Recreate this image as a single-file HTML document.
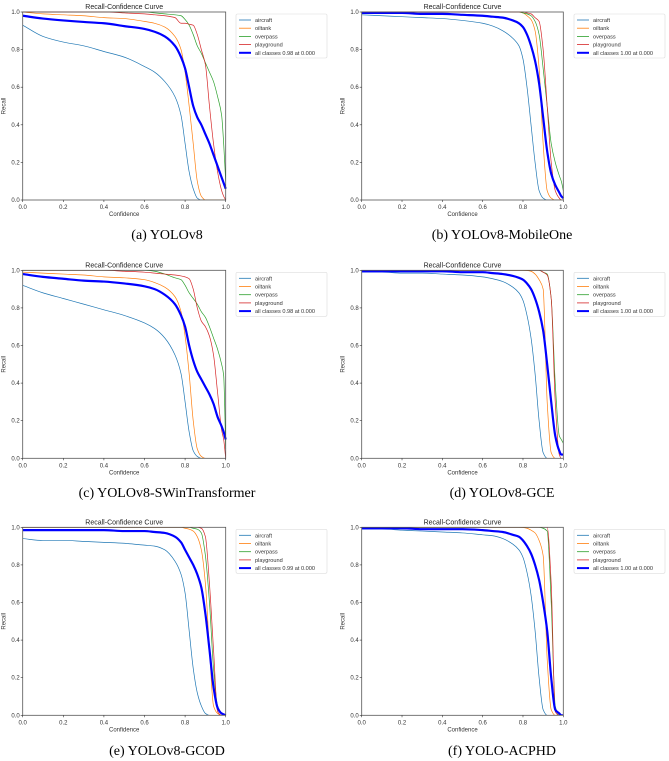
<!DOCTYPE html>
<html><head><meta charset="utf-8">
<style>
html,body{margin:0;padding:0;background:#fff;}
svg{display:block;}
text{font-family:"Liberation Sans",sans-serif;}
.cap{font-family:"Liberation Serif",serif;font-size:14px;fill:#000;}
</style></head>
<body>
<svg id="fig" width="669" height="761" viewBox="0 0 669 761" xmlns="http://www.w3.org/2000/svg"></svg>
<script>
const confidence=[0,0.1,0.2,0.3,0.4,0.5,0.6,0.65,0.7,0.75,0.78,0.8,0.82,0.84,0.86,0.88,0.9,0.92,0.94,0.96,0.98,0.99,1.0];
const tickLabels=["0.0","0.2","0.4","0.6","0.8","1.0"];
const tickValues=[0,0.2,0.4,0.6,0.8,1.0];
const seriesNames=["aircraft","oiltank","overpass","playground"];
const captions=["(a) YOLOv8","(b) YOLOv8-MobileOne","(c) YOLOv8-SWinTransformer","(d) YOLOv8-GCE","(e) YOLOv8-GCOD","(f) YOLO-ACPHD"];
const allLabels=["all classes 0.98 at 0.000","all classes 1.00 at 0.000","all classes 0.98 at 0.000","all classes 1.00 at 0.000","all classes 0.99 at 0.000","all classes 1.00 at 0.000"];

const aAircraft=[0.93,0.87,0.84,0.82,0.79,0.76,0.71,0.68,0.63,0.55,0.45,0.30,0.15,0.06,0.01,0,0,0,0,0,0,0,0];
const aOiltank=[1.0,0.99,0.985,0.98,0.97,0.965,0.95,0.94,0.92,0.87,0.80,0.68,0.50,0.30,0.10,0.02,0,0,0,0,0,0,0];
const aOverpass=[1,1,1,1,1,1,1,0.995,0.99,0.985,0.98,0.96,0.93,0.88,0.82,0.78,0.73,0.68,0.63,0.55,0.45,0.30,0.10];
const aPlayground=[1,1,1,1,1,0.995,0.99,0.985,0.98,0.97,0.94,0.94,0.935,0.93,0.88,0.80,0.72,0.50,0.30,0.15,0.05,0.02,0];
const aAll=[0.98,0.965,0.955,0.947,0.94,0.925,0.91,0.895,0.87,0.82,0.76,0.70,0.60,0.50,0.44,0.40,0.35,0.30,0.24,0.18,0.12,0.09,0.06];

const bAircraft=[0.985,0.98,0.975,0.97,0.965,0.955,0.94,0.925,0.90,0.86,0.82,0.75,0.60,0.40,0.20,0.05,0.01,0,0,0,0,0,0];
const bOiltank=[1,1,1,1,1,1,1,1,1,1,0.999,0.995,0.98,0.96,0.90,0.70,0.30,0.05,0.01,0,0,0,0];
const bOverpass=[1,1,1,1,1,1,1,1,1,1,1,0.995,0.99,0.98,0.95,0.88,0.70,0.50,0.30,0.20,0.13,0.10,0.05];
const bPlayground=[1,1,1,1,1,1,1,1,1,1,1,1,0.995,0.99,0.97,0.95,0.80,0.50,0.20,0.05,0.01,0,0];
const bAll=[0.995,0.995,0.995,0.99,0.99,0.985,0.98,0.975,0.97,0.955,0.94,0.92,0.88,0.82,0.74,0.62,0.44,0.26,0.14,0.08,0.04,0.02,0.01];

const cAircraft=[0.92,0.88,0.85,0.82,0.79,0.76,0.72,0.69,0.64,0.55,0.45,0.30,0.14,0.04,0.01,0,0,0,0,0,0,0,0];
const cOiltank=[0.99,0.985,0.98,0.975,0.965,0.96,0.95,0.935,0.91,0.86,0.78,0.65,0.45,0.20,0.05,0.01,0,0,0,0,0,0,0];
const cOverpass=[1,1,1,1,1,1,1,0.995,0.98,0.96,0.95,0.92,0.88,0.85,0.82,0.78,0.75,0.70,0.64,0.58,0.50,0.44,0.05];
const cPlayground=[1,1,1,1,1,0.995,0.99,0.985,0.98,0.975,0.97,0.965,0.955,0.90,0.80,0.73,0.70,0.65,0.55,0.35,0.15,0.10,0.0];
const cAll=[0.98,0.965,0.955,0.945,0.94,0.93,0.915,0.90,0.87,0.82,0.76,0.70,0.60,0.52,0.46,0.42,0.38,0.34,0.29,0.22,0.17,0.14,0.10];

const dAircraft=[0.99,0.99,0.985,0.985,0.98,0.975,0.965,0.955,0.94,0.91,0.88,0.84,0.76,0.64,0.45,0.20,0.03,0,0,0,0,0,0];
const dOiltank=[1,1,1,1,1,1,1,1,1,1,1,1,0.999,0.995,0.98,0.95,0.90,0.30,0.03,0,0,0,0];
const dOverpass=[1,1,1,1,1,1,1,1,1,1,1,1,1,1,1,1,0.99,0.98,0.85,0.40,0.12,0.10,0.08];
const dPlayground=[1,1,1,1,1,1,1,1,1,1,1,1,1,1,1,1,0.99,0.975,0.85,0.30,0.02,0,0];
const dAll=[0.995,0.995,0.995,0.995,0.995,0.99,0.99,0.985,0.98,0.97,0.96,0.95,0.93,0.90,0.85,0.78,0.68,0.50,0.30,0.12,0.04,0.02,0.02];

const eAircraft=[0.94,0.93,0.93,0.925,0.92,0.915,0.905,0.90,0.88,0.82,0.75,0.65,0.45,0.25,0.12,0.05,0.01,0,0,0,0,0,0];
const eOiltank=[1,1,1,1,1,1,1,1,1,1,1,0.995,0.99,0.98,0.95,0.88,0.70,0.35,0.05,0.01,0,0,0];
const eOverpass=[1,1,1,1,1,1,1,1,1,1,1,1,1,0.995,0.99,0.97,0.85,0.60,0.25,0.05,0.01,0,0];
const ePlayground=[1,1,1,1,1,1,1,1,1,1,1,1,1,1,1,0.995,0.95,0.70,0.35,0.02,0,0,0];
const eAll=[0.985,0.985,0.985,0.985,0.985,0.98,0.98,0.975,0.97,0.95,0.92,0.88,0.84,0.80,0.75,0.68,0.54,0.35,0.15,0.04,0.01,0.005,0];

const fAircraft=[0.99,0.99,0.985,0.98,0.975,0.97,0.96,0.955,0.94,0.91,0.88,0.84,0.76,0.64,0.45,0.20,0.03,0,0,0,0,0,0];
const fOiltank=[1,1,1,1,1,1,1,1,1,1,1,0.999,0.995,0.985,0.97,0.93,0.85,0.30,0.03,0,0,0,0];
const fOverpass=[1,1,1,1,1,1,1,1,1,1,1,1,1,1,1,1,0.995,0.98,0.60,0.05,0,0,0];
const fPlayground=[1,1,1,1,1,1,1,1,1,1,1,1,1,1,1,1,1,1,0.70,0.02,0,0,0];
const fAll=[0.995,0.995,0.995,0.99,0.99,0.99,0.985,0.98,0.975,0.96,0.95,0.93,0.90,0.86,0.80,0.72,0.60,0.45,0.20,0.03,0.01,0,0];

const panelSeries=[
 [aAircraft,aOiltank,aOverpass,aPlayground,aAll],
 [bAircraft,bOiltank,bOverpass,bPlayground,bAll],
 [cAircraft,cOiltank,cOverpass,cPlayground,cAll],
 [dAircraft,dOiltank,dOverpass,dPlayground,dAll],
 [eAircraft,eOiltank,eOverpass,ePlayground,eAll],
 [fAircraft,fOiltank,fOverpass,fPlayground,fAll]
];
const colors=["#1f77b4","#ff7f0e","#2ca02c","#d62728","#0000ff"];
const NS="http://www.w3.org/2000/svg";
const fig=document.getElementById('fig');
function mk(tag,attrs,parent,txt){const e=document.createElementNS(NS,tag);for(const k in attrs)e.setAttribute(k,attrs[k]);if(txt!==undefined)e.textContent=txt;parent.appendChild(e);return e;}

// monotone cubic path through screen points
function monoPath(P){
 const n=P.length, dx=[], m=[], t=new Array(n);
 for(let i=0;i<n-1;i++){dx[i]=P[i+1][0]-P[i][0];m[i]=(P[i+1][1]-P[i][1])/dx[i];}
 t[0]=m[0];t[n-1]=m[n-2];
 for(let i=1;i<n-1;i++){
  if(m[i-1]*m[i]<=0)t[i]=0;
  else{const w1=2*dx[i]+dx[i-1],w2=dx[i]+2*dx[i-1];t[i]=(w1+w2)/(w1/m[i-1]+w2/m[i]);}
 }
 let d='M'+P[0][0].toFixed(2)+','+P[0][1].toFixed(2);
 for(let i=0;i<n-1;i++){
  const h=dx[i]/3;
  d+='C'+(P[i][0]+h).toFixed(2)+','+(P[i][1]+t[i]*h).toFixed(2)+' '+(P[i+1][0]-h).toFixed(2)+','+(P[i+1][1]-t[i+1]*h).toFixed(2)+' '+P[i+1][0].toFixed(2)+','+P[i+1][1].toFixed(2);
 }
 return d;
}

const cols=[{x0:22.7,x1:225.7,lx:236,cx:167},{x0:361.7,x1:563.3,lx:574,cx:502}];
const rows=[{y0:12,y1:200,cy:239},{y0:270.3,y1:458.3,cy:497},{y0:527.3,y1:715.3,cy:755}];

for(let p=0;p<6;p++){
 const c=cols[p%2], r=rows[Math.floor(p/2)];
 const g=mk('g',{},fig);
 
 
 const xs=v=>c.x0+v*(c.x1-c.x0);
 const ys=v=>r.y1-v*(r.y1-r.y0);
 const cid='clip'+p;
 const cp=mk('clipPath',{id:cid},g);
 mk('rect',{x:c.x0,y:r.y0-1.5,width:c.x1-c.x0+1.5,height:r.y1-r.y0+1.5},cp);
 const sg=mk('g',{'clip-path':'url(#'+cid+')'},g);
 const data=panelSeries[p];
 for(let s=0;s<5;s++){
  const pts=confidence.map((v,i)=>[xs(v),ys(data[s][i])]);
  const pl=mk('path',{d:monoPath(pts),fill:'none',stroke:colors[s],'stroke-width':s===4?2.2:0.7,'stroke-linejoin':'round'},sg);
  
  
 }
 const fr=mk('rect',{x:c.x0,y:r.y0,width:c.x1-c.x0,height:r.y1-r.y0,fill:'none',stroke:'#555','stroke-width':0.8},g);
 
 
 for(let t=0;t<tickValues.length;t++){
  const X=xs(tickValues[t]);
  mk('line',{x1:X,x2:X,y1:r.y1,y2:r.y1+2,stroke:'#333','stroke-width':0.6},g);
  const tx=mk('text',{x:X,y:r.y1+9,'font-size':6,'text-anchor':'middle',fill:'#333'},g,tickLabels[t]);
  
  
  const Y=ys(tickValues[t]);
  mk('line',{x1:c.x0-2,x2:c.x0,y1:Y,y2:Y,stroke:'#333','stroke-width':0.6},g);
  const ty=mk('text',{x:c.x0-3,y:Y+2,'font-size':6,'text-anchor':'end',fill:'#333'},g,tickLabels[t]);
  
  
 }
 const ti=mk('text',{x:(c.x0+c.x1)/2,y:r.y0-3,'font-size':7,'text-anchor':'middle',fill:'#222'},g,'Recall-Confidence Curve');
 
 
 const xl=mk('text',{x:(c.x0+c.x1)/2,y:r.y1+16,'font-size':6,'text-anchor':'middle',fill:'#333'},g,'Confidence');
 
 
 const yx=c.x0-17, yy=(r.y0+r.y1)/2;
 const yl=mk('text',{x:yx,y:yy,'font-size':6,'text-anchor':'middle',fill:'#333',transform:'rotate(-90 '+yx+' '+yy+')'},g,'Recall');
 
 
 const lg=mk('g',{},g);
 
 
 const ly=r.y0+2;
 mk('rect',{x:c.lx,y:ly,width:91,height:44,fill:'#fff',stroke:'#ddd','stroke-width':0.6,rx:1.5},lg);
 for(let s=0;s<5;s++){
  const yy2=ly+6+s*8.2;
  mk('line',{x1:c.lx+3,x2:c.lx+15,y1:yy2,y2:yy2,stroke:colors[s],'stroke-width':s===4?2:0.8},lg);
  const lt=mk('text',{x:c.lx+19,y:yy2+2,'font-size':5.6,fill:'#333'},lg,s===4?allLabels[p]:seriesNames[s]);
  
  
 }
 const cap=mk('text',{x:c.cx,y:r.cy,'text-anchor':'middle',class:'cap'},g,captions[p]);
 
 
}
</script>
</body></html>
